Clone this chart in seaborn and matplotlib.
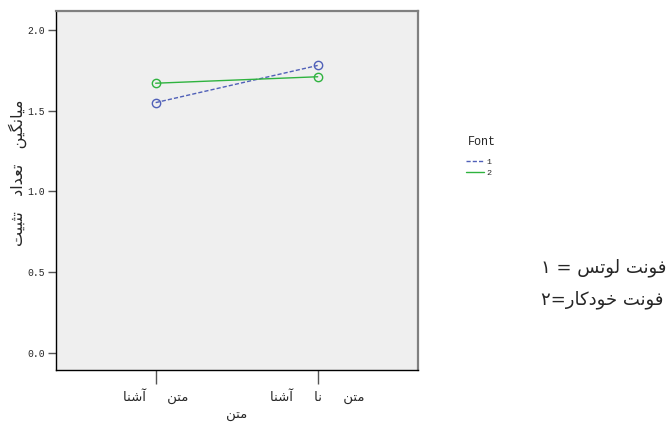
import pandas as pd
import matplotlib.pyplot as plt
import seaborn as sns
from matplotlib.lines import Line2D

# data
text_types = ["متن آشنا", "متن نا آشنا"]      # familiar / unfamiliar text
font_levels = ["1", "2"]
font1_means = [1.55, 1.78]
font2_means = [1.67, 1.71]
y_ticks = [0.0, 0.5, 1.0, 1.5, 2.0]

# minimal Persian shaping (matplotlib has no bidi / joining support)
FORMS = {
    "ا": ("\uFE8D", "\uFE8E", None, None),
    "آ": ("\uFE81", "\uFE82", None, None),
    "ب": ("\uFE8F", "\uFE90", "\uFE91", "\uFE92"),
    "ت": ("\uFE95", "\uFE96", "\uFE97", "\uFE98"),
    "ث": ("\uFE99", "\uFE9A", "\uFE9B", "\uFE9C"),
    "خ": ("\uFEA5", "\uFEA6", "\uFEA7", "\uFEA8"),
    "د": ("\uFEA9", "\uFEAA", None, None),
    "ر": ("\uFEAD", "\uFEAE", None, None),
    "س": ("\uFEB1", "\uFEB2", "\uFEB3", "\uFEB4"),
    "ش": ("\uFEB5", "\uFEB6", "\uFEB7", "\uFEB8"),
    "ع": ("\uFEC9", "\uFECA", "\uFECB", "\uFECC"),
    "ف": ("\uFED1", "\uFED2", "\uFED3", "\uFED4"),
    "ک": ("\uFB8E", "\uFB8F", "\uFB90", "\uFB91"),
    "گ": ("\uFB92", "\uFB93", "\uFB94", "\uFB95"),
    "ل": ("\uFEDD", "\uFEDE", "\uFEDF", "\uFEE0"),
    "م": ("\uFEE1", "\uFEE2", "\uFEE3", "\uFEE4"),
    "ن": ("\uFEE5", "\uFEE6", "\uFEE7", "\uFEE8"),
    "و": ("\uFEED", "\uFEEE", None, None),
    "ی": ("\uFBFC", "\uFBFD", "\uFBFE", "\uFBFF"),
}


def shape_word(w):
    out = []
    for i, ch in enumerate(w):
        if ch not in FORMS:
            out.append(ch)
            continue
        f = FORMS[ch]
        prev = w[i - 1] if i > 0 else None
        nxt = w[i + 1] if i < len(w) - 1 else None
        jp = prev in FORMS and FORMS[prev][2] is not None
        jn = nxt in FORMS and f[2] is not None
        if jp and jn:
            out.append(f[3])
        elif jp:
            out.append(f[1])
        elif jn:
            out.append(f[2])
        else:
            out.append(f[0])
    return "".join(reversed(out))


def rtl(phrase, gap="     "):
    return gap.join(shape_word(w) for w in reversed(phrase.split()))


df = pd.DataFrame({
    "text": [rtl(t) for t in text_types] * 2,
    "Font": [font_levels[0]] * 2 + [font_levels[1]] * 2,
    "mean": font1_means + font2_means,
})

sns.set_style("white")
colors = {"1": "#5060b8", "2": "#2fb33f"}
dashes = {"1": (3, 1.5), "2": ""}

fig = plt.figure(figsize=(6.69, 4.22), dpi=100)
ax = fig.add_axes([56 / 669, 52 / 422, 362 / 669, 359 / 422])
ax.set_facecolor("#efefef")

sns.lineplot(data=df, x="text", y="mean", hue="Font", style="Font",
             palette=colors, dashes=dashes, markers=["o", "o"],
             mfc="none", ms=6, lw=1, legend=False, ax=ax)
for line in ax.lines:
    line.set_markeredgecolor(line.get_color())
    line.set_markeredgewidth(1)

ax.set_xlim(-0.615, 1.619)
ax.set_ylim(-0.105, 2.117)
ax.set_yticks(y_ticks, [f"{v:.1f}" for v in y_ticks],
              fontfamily="Liberation Mono", fontsize=7)
for lab in ax.get_xticklabels():
    lab.set_fontfamily("DejaVu Sans")
    lab.set_fontsize(9.5)
ax.tick_params(axis="y", left=True, direction="out", length=6, width=1,
               color="#555555", pad=2)
ax.tick_params(axis="x", bottom=True, direction="out", length=10, width=1,
               color="#555555", pad=3)

ax.set_xlabel(rtl("متن"), fontfamily="DejaVu Sans", fontsize=9.5)
ax.xaxis.set_label_coords(0.5, -0.11)
ax.set_ylabel(rtl("میانگین تعداد تثبیت", gap="   "), fontfamily="DejaVu Sans",
              fontsize=11.5)
ax.yaxis.set_label_coords(-0.08, 0.55)

for side in ["left", "bottom"]:
    ax.spines[side].set_color("black")
    ax.spines[side].set_linewidth(1)
for side in ["top", "right"]:
    ax.spines[side].set_color("#808080")
    ax.spines[side].set_linewidth(1.6)

# legend: title as separate text, entries below it
fig.text(468 / 669, 1 - 142 / 422, "Font", fontfamily="Liberation Mono",
         fontsize=8.5, va="center", ha="left")
handles = [Line2D([], [], color=colors[k], lw=1,
                  linestyle=(0, dashes[k]) if dashes[k] else "-")
           for k in font_levels]
fig.legend(handles, font_levels, loc="upper left",
           bbox_to_anchor=(466 / 669, 1 - 158 / 422), frameon=False,
           prop={"family": "Liberation Mono", "size": 6},
           handlelength=2.2, handletextpad=0.3, labelspacing=0.35,
           borderaxespad=0, borderpad=0)

# note on font codes (visual order, right-to-left)
fig.text(541 / 669, 1 - 268 / 422,
         "۱ = " + shape_word("لوتس") + " " + shape_word("فونت"),
         fontfamily="DejaVu Sans", fontsize=13, va="center", ha="left")
fig.text(541 / 669, 1 - 300 / 422,
         "۲=" + shape_word("خودکار") + " " + shape_word("فونت"),
         fontfamily="DejaVu Sans", fontsize=13, va="center", ha="left")

fig.savefig("out.png", dpi=100)
